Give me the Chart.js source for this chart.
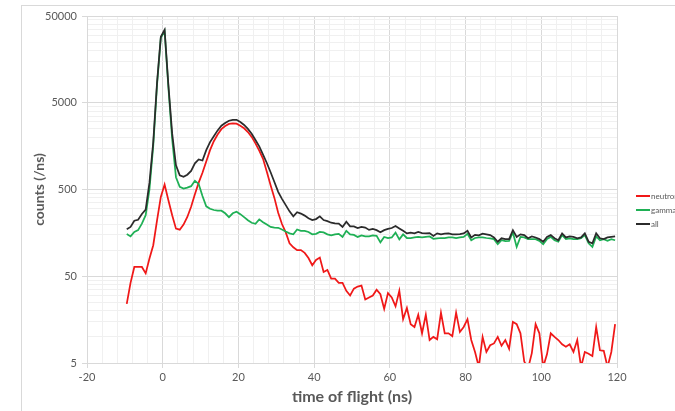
<!DOCTYPE html>
<html>
<head>
<meta charset="utf-8">
<script src="https://cdn.jsdelivr.net/npm/chart.js@4"></script>
<style>
  html, body { margin: 0; padding: 0; background: #fff; overflow: hidden; width: 675px; height: 411px; }
  #frame { position: absolute; left: 21px; top: 5px; width: 800px; height: 500px; border: 1px solid #d9d9d9; }
  #tof { position: absolute; left: 0; top: 0; }
</style>
</head>
<body>
<div id="frame"></div>
<canvas id="tof" width="720" height="411"></canvas>
<script>
// bin centres (ns)
const timeBins = [
  -9.5, -8.5, -7.5, -6.5, -5.5, -4.5, -3.5, -2.5, -1.5, -0.5,
  0.5, 1.5, 2.5, 3.5, 4.5, 5.5, 6.5, 7.5, 8.5, 9.5,
  10.5, 11.5, 12.5, 13.5, 14.5, 15.5, 16.5, 17.5, 18.5, 19.5,
  20.5, 21.5, 22.5, 23.5, 24.5, 25.5, 26.5, 27.5, 28.5, 29.5,
  30.5, 31.5, 32.5, 33.5, 34.5, 35.5, 36.5, 37.5, 38.5, 39.5,
  40.5, 41.5, 42.5, 43.5, 44.5, 45.5, 46.5, 47.5, 48.5, 49.5,
  50.5, 51.5, 52.5, 53.5, 54.5, 55.5, 56.5, 57.5, 58.5, 59.5,
  60.5, 61.5, 62.5, 63.5, 64.5, 65.5, 66.5, 67.5, 68.5, 69.5,
  70.5, 71.5, 72.5, 73.5, 74.5, 75.5, 76.5, 77.5, 78.5, 79.5,
  80.5, 81.5, 82.5, 83.5, 84.5, 85.5, 86.5, 87.5, 88.5, 89.5,
  90.5, 91.5, 92.5, 93.5, 94.5, 95.5, 96.5, 97.5, 98.5, 99.5,
  100.5, 101.5, 102.5, 103.5, 104.5, 105.5, 106.5, 107.5, 108.5, 109.5,
  110.5, 111.5, 112.5, 113.5, 114.5, 115.5, 116.5, 117.5, 118.5, 119.5
];

const neutron = [
  24, 42, 64, 64, 64, 54, 80, 114, 220, 410,
  570, 376, 253, 177, 172, 197, 241, 316, 440, 600,
  780, 1050, 1420, 1800, 2150, 2480, 2700, 2850, 2900, 2870,
  2720, 2540, 2300, 2020, 1700, 1400, 1130, 800, 560, 400,
  270, 200, 160, 120, 108, 100, 100, 93, 81, 67,
  77, 82, 56, 59, 47, 47, 42, 42, 34, 30,
  36, 38, 39, 27, 28.5, 30, 35, 31, 21, 32,
  28.5, 22.5, 34, 16, 21.5, 14, 13, 18, 11, 18,
  9.2, 10, 9.4, 19, 11, 11, 10.2, 19, 11.4, 13,
  16, 9.2, 6.7, 4.5, 10, 6.7, 8, 8.4, 10, 7.9,
  9.2, 7.3, 14.9, 14, 11, 5.2, 4.3, 6.5, 14, 11,
  4.5, 6.3, 11, 10, 9.2, 8.2, 7.7, 8.2, 6.7, 9.2,
  4.5, 6.7, 6.4, 6, 13, 7, 6.9, 4.5, 6.7, 14
];

const gamma = [
  153, 144, 162, 170, 202, 253, 500, 1600, 8000, 28000,
  33500, 7500, 1900, 693, 536, 512, 525, 546, 630, 580,
  420, 320, 300, 290, 285, 285, 266, 240, 266, 277,
  260, 240, 221, 207, 201, 226, 210, 197, 185, 182,
  181, 173, 164, 156, 152, 173, 167, 167, 162, 152,
  154, 162, 160, 152, 148, 152, 154, 142, 167, 152,
  150, 142, 148, 144, 144, 148, 146, 123, 142, 138,
  140, 159, 133, 152, 138, 138, 140, 142, 140, 142,
  144, 135, 137, 138, 138, 140, 140, 138, 140, 142,
  154, 130, 138, 140, 140, 138, 137, 134, 117, 130,
  127, 128, 160, 109, 142, 140, 134, 134, 134, 128,
  117, 134, 142, 130, 125, 149, 134, 137, 134, 134,
  137, 149, 120, 109, 144, 130, 134, 128, 134, 130
];

const all = [
  174, 185, 218, 224, 261, 294, 600, 1750, 8500, 28800,
  34700, 8000, 2200, 950, 730, 700, 740, 820, 1000, 1110,
  1080, 1420, 1760, 2050, 2400, 2720, 2920, 3100, 3180, 3180,
  3000, 2770, 2500, 2200, 1860, 1570, 1260, 1010, 790, 610,
  470, 390, 330, 280, 245, 274, 264, 250, 233, 222,
  228, 245, 222, 216, 207, 204, 202, 185, 213, 188,
  188, 180, 185, 182, 171, 176, 170, 161, 170, 176,
  180, 190, 178, 167, 156, 159, 156, 162, 157, 156,
  157, 146, 156, 152, 155, 156, 152, 152, 153, 156,
  167, 140, 150, 148, 155, 152, 149, 140, 125, 137,
  134, 134, 170, 142, 152, 149, 137, 144, 140, 134,
  125, 142, 149, 137, 130, 156, 140, 144, 142, 137,
  140, 156, 125, 120, 156, 137, 134, 140, 142, 144
];

const xTickLabels = [-20, 0, 20, 40, 60, 80, 100, 120];
const yTickLabels = [5, 50, 500, 5000, 50000];

const seriesNames = ['neutron', 'gamma', 'all'];
const seriesColors = ['#f01818', '#1fb055', '#2b2b2b'];

const gridMajor = '#d9d9d9';
const gridMinor = '#f0f0f0';
const labelColor = '#595959';
const fontFamily = 'Lato, "Open Sans", sans-serif';

function toPoints(values) {
  return values.map((v, i) => ({ x: timeBins[i], y: v }));
}

// legend drawn to the right of the plot, line sample + name
const sideLegend = {
  id: 'sideLegend',
  afterDraw(chart) {
    const ctx = chart.ctx;
    const left = chart.chartArea.right + 19;
    const top = chart.chartArea.top + 180;
    ctx.save();
    ctx.font = '8px ' + fontFamily;
    ctx.textBaseline = 'middle';
    seriesNames.forEach((name, i) => {
      const y = top + i * 14;
      ctx.strokeStyle = seriesColors[i];
      ctx.lineWidth = 2;
      ctx.beginPath();
      ctx.moveTo(left, y);
      ctx.lineTo(left + 14, y);
      ctx.stroke();
      ctx.fillStyle = labelColor;
      ctx.fillText(name, left + 15, y);
    });
    ctx.restore();
  }
};

const datasets = [
  { label: seriesNames[0], data: toPoints(neutron), borderColor: seriesColors[0], order: 2 },
  { label: seriesNames[1], data: toPoints(gamma), borderColor: seriesColors[1], order: 1 },
  { label: seriesNames[2], data: toPoints(all), borderColor: seriesColors[2], order: 0 }
].map(d => Object.assign(d, { borderWidth: 1.75, pointRadius: 0, tension: 0, fill: false }));

new Chart(document.getElementById('tof').getContext('2d'), {
  type: 'line',
  data: { datasets },
  options: {
    responsive: false,
    animation: false,
    layout: { padding: { left: 0, top: 16, right: 103, bottom: 0 } },
    plugins: { legend: { display: false }, tooltip: { enabled: false } },
    scales: {
      x: {
        type: 'linear',
        min: -20,
        max: 120,
        afterBuildTicks: scale => {
          const ticks = [];
          for (let v = -20; v <= 120; v += 4) ticks.push({ value: v });
          scale.ticks = ticks;
        },
        afterFit: scale => { scale.height = 48; },
        ticks: {
          autoSkip: false,
          maxRotation: 0,
          padding: 3,
          color: labelColor,
          font: { family: fontFamily, size: 11 },
          callback: v => xTickLabels.includes(v) ? String(v) : ''
        },
        grid: {
          color: c => xTickLabels.includes(c.tick.value) ? gridMajor : gridMinor,
          tickColor: c => xTickLabels.includes(c.tick.value) ? gridMajor : 'rgba(0,0,0,0)',
          tickLength: 5
        },
        border: { color: gridMajor },
        title: {
          display: true,
          text: 'time of flight (ns)',
          color: labelColor,
          font: { family: fontFamily, size: 16, weight: 'bold' },
          padding: { top: 0, bottom: 5 }
        }
      },
      y: {
        type: 'logarithmic',
        min: 5,
        max: 50000,
        afterBuildTicks: scale => {
          const ticks = [];
          yTickLabels.forEach((base, i) => {
            if (i === yTickLabels.length - 1) { ticks.push({ value: base }); return; }
            for (let k = 1; k <= 9; k++) ticks.push({ value: base * k });
          });
          scale.ticks = ticks;
        },
        afterFit: scale => { scale.width = 87; },
        ticks: {
          autoSkip: false,
          padding: 5,
          color: labelColor,
          font: { family: fontFamily, size: 11 },
          callback: v => yTickLabels.includes(v) ? String(v) : ''
        },
        grid: {
          color: c => yTickLabels.includes(c.tick.value) ? gridMajor : gridMinor,
          tickColor: c => yTickLabels.includes(c.tick.value) ? gridMajor : 'rgba(0,0,0,0)',
          tickLength: 5
        },
        border: { color: gridMajor },
        title: {
          display: true,
          text: 'counts (/ns)',
          color: labelColor,
          font: { family: fontFamily, size: 14, weight: 'bold' },
          padding: { top: 31, bottom: 0 }
        }
      }
    }
  },
  plugins: [sideLegend]
});
</script>
</body>
</html>
